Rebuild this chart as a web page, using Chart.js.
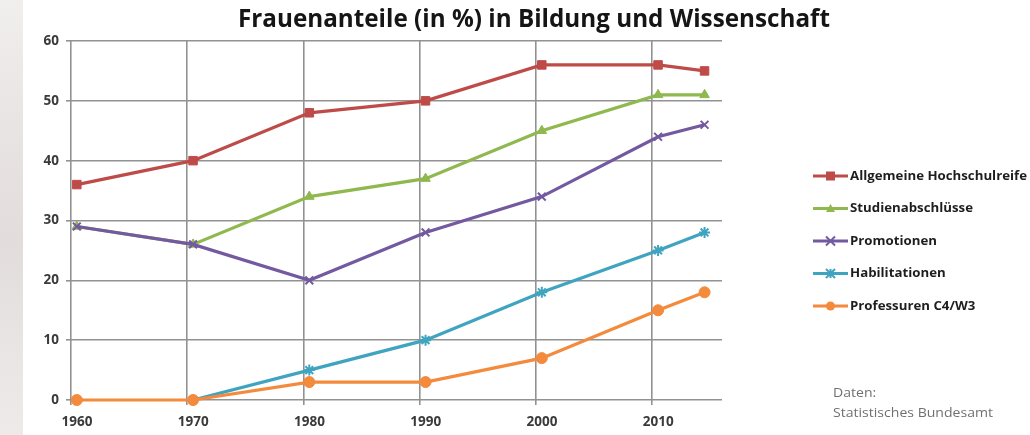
<!DOCTYPE html>
<html>
<head>
<meta charset="utf-8">
<script src="https://cdn.jsdelivr.net/npm/chart.js@4.4.1/dist/chart.umd.min.js"></script>
<style>
  html, body { margin: 0; padding: 0; background: #ffffff; }
  #wrap { width: 1030px; height: 435px; position: relative; }
</style>
</head>
<body>
<div id="wrap"><canvas id="c" width="1030" height="435"></canvas></div>
<script>
// ---- data ----
const titleText = 'Frauenanteile (in %) in Bildung und Wissenschaft';
const years = [1960, 1970, 1980, 1990, 2000, 2010, 2014];
const xTickLabels = [1960, 1970, 1980, 1990, 2000, 2010];
const yTickValues = [0, 10, 20, 30, 40, 50, 60];
const seriesNames = ['Allgemeine Hochschulreife', 'Studienabschlüsse', 'Promotionen', 'Habilitationen', 'Professuren C4/W3'];
const hochschulreife = [36, 40, 48, 50, 56, 56, 55];
const studienabschluesse = [29, 26, 34, 37, 45, 51, 51];
const promotionen = [29, 26, 20, 28, 34, 44, 46];
const habilitationen = [null, 0, 5, 10, 18, 25, 28];
const professuren = [0, 0, 3, 3, 7, 15, 18];
const sourceLines = ['Daten:', 'Statistisches Bundesamt'];

const colors = ['#BE4B48', '#8FB84E', '#7259A0', '#3FA4C0', '#F38A3C'];
const markers = ['rect', 'triangle', 'crossRot', 'star', 'circle'];
const allSeries = [hochschulreife, studienabschluesse, promotionen, habilitationen, professuren];

function toPoints(vals) { return years.map((y, i) => ({ x: y, y: vals[i] })); }

const datasets = allSeries.map((vals, i) => ({
  label: seriesNames[i],
  data: toPoints(vals),
  borderColor: colors[i],
  backgroundColor: colors[i],
  borderWidth: 3.2,
  pointStyle: markers[i],
  pointRadius: markers[i] === 'rect' ? 6 : (markers[i] === 'circle' ? 5.5 : 5.5),
  pointBorderWidth: (markers[i] === 'crossRot' || markers[i] === 'star') ? 2 : 1,
  pointBackgroundColor: colors[i],
  pointBorderColor: colors[i],
  tension: 0,
  spanGaps: false,
  clip: false
})).reverse(); // draw order: first series on top

const tickFont = { family: '"Open Sans", sans-serif', size: 13.5, weight: 'bold' };

function drawMarker(ctx, style, x, y, r, color) {
  ctx.save();
  ctx.fillStyle = color; ctx.strokeStyle = color; ctx.lineWidth = 2;
  ctx.beginPath();
  if (style === 'rect') { ctx.fillRect(x - r, y - r, 2 * r, 2 * r); }
  else if (style === 'circle') { ctx.arc(x, y, r, 0, Math.PI * 2); ctx.fill(); }
  else if (style === 'triangle') {
    ctx.moveTo(x, y - r); ctx.lineTo(x + r, y + r * 0.8); ctx.lineTo(x - r, y + r * 0.8); ctx.closePath(); ctx.fill();
  } else if (style === 'crossRot') {
    ctx.moveTo(x - r, y - r); ctx.lineTo(x + r, y + r); ctx.moveTo(x + r, y - r); ctx.lineTo(x - r, y + r); ctx.stroke();
  } else if (style === 'star') {
    ctx.moveTo(x - r, y - r); ctx.lineTo(x + r, y + r); ctx.moveTo(x + r, y - r); ctx.lineTo(x - r, y + r);
    ctx.moveTo(x, y - r); ctx.lineTo(x, y + r); ctx.stroke();
  }
  ctx.restore();
}

const decorPlugin = {
  id: 'decor',
  beforeDraw(chart) {
    const ctx = chart.ctx;
    ctx.save();
    ctx.fillStyle = '#ffffff';
    ctx.fillRect(0, 0, chart.width, chart.height);
    const g = ctx.createLinearGradient(0, 0, 0, chart.height);
    g.addColorStop(0, '#f1eeee');
    g.addColorStop(0.3, '#e9e4e4');
    g.addColorStop(0.55, '#e2dcdc');
    g.addColorStop(0.8, '#e9e5e5');
    g.addColorStop(1, '#eeeaea');
    ctx.fillStyle = g;
    ctx.fillRect(0, 0, 23, chart.height);
    ctx.restore();
  },
  afterDraw(chart) {
    const ctx = chart.ctx;
    ctx.save();
    // title
    ctx.font = 'bold 25px "Open Sans", sans-serif';
    ctx.fillStyle = '#151515';
    ctx.textBaseline = 'middle';
    ctx.textAlign = 'center';
    const tw = ctx.measureText(titleText).width;
    const sx = 592 / tw;
    ctx.translate(534, 20);
    ctx.scale(sx, 1);
    ctx.fillText(titleText, 0, 0);
    ctx.setTransform(1, 0, 0, 1, 0, 0);

    // legend
    ctx.font = 'bold 13px "Open Sans", sans-serif';
    const lw = ctx.measureText(seriesNames[0]).width;
    const lsx = 177 / lw;
    const rows = [176, 208.5, 241, 273.5, 306];
    seriesNames.forEach((name, i) => {
      const y = rows[i];
      ctx.strokeStyle = colors[i]; ctx.lineWidth = 3;
      ctx.beginPath(); ctx.moveTo(813, y); ctx.lineTo(848, y); ctx.stroke();
      drawMarker(ctx, markers[i], 830.5, y, 4.5, colors[i]);
      ctx.save();
      ctx.fillStyle = '#1e1e1e';
      ctx.textAlign = 'left'; ctx.textBaseline = 'middle';
      ctx.translate(850, y);
      ctx.scale(lsx, 1);
      ctx.fillText(name, 0, 0);
      ctx.restore();
    });

    // source
    ctx.font = '13px "Open Sans", sans-serif';
    ctx.fillStyle = '#707070';
    ctx.textAlign = 'left'; ctx.textBaseline = 'middle';
    const sw = ctx.measureText(sourceLines[1]).width;
    const ssx = 160 / sw;
    [393, 413].forEach((y, i) => {
      ctx.save();
      ctx.translate(833, y);
      ctx.scale(ssx, 1);
      ctx.fillText(sourceLines[i], 0, 0);
      ctx.restore();
    });
    ctx.restore();
  }
};

new Chart(document.getElementById('c'), {
  type: 'line',
  data: { datasets },
  plugins: [decorPlugin],
  options: {
    responsive: false,
    animation: false,
    devicePixelRatio: 1,
    layout: { padding: { left: 23, top: 41, right: 308, bottom: 0 } },
    plugins: { legend: { display: false }, title: { display: false }, tooltip: { enabled: false } },
    scales: {
      x: {
        type: 'linear',
        min: 1959.5,
        max: 2015.5,
        afterBuildTicks(scale) { scale.ticks = xTickLabels.map(v => ({ value: v - 0.5 })); },
        afterFit(scale) { scale.height = 35; },
        ticks: {
          callback: (v) => String(Math.round(v + 0.5)),
          labelOffset: 6,
          padding: 9,
          color: '#3a3a3a',
          font: tickFont,
          maxRotation: 0,
          autoSkip: false
        },
        grid: { color: '#929292', lineWidth: 1.6, tickLength: 5, drawTicks: true, tickColor: '#929292' },
        border: { display: false }
      },
      y: {
        min: 0,
        max: 60,
        afterBuildTicks(scale) { scale.ticks = yTickValues.map(v => ({ value: v })); },
        afterFit(scale) { scale.width = 48; },
        ticks: { color: '#3a3a3a', font: tickFont, padding: 7 },
        grid: { color: '#929292', lineWidth: 1.6, tickLength: 5, drawTicks: true, tickColor: '#929292' },
        border: { display: false }
      }
    }
  }
});
</script>
</body>
</html>
